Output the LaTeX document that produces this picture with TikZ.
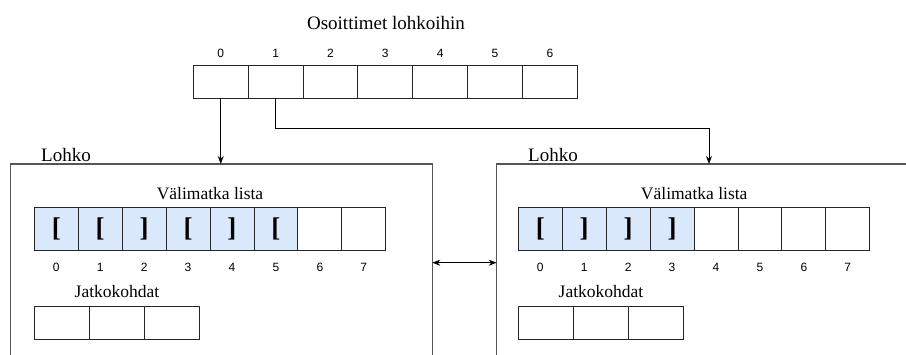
\documentclass[tikz,border=0pt]{standalone}
\usepackage{fontspec}
\setmainfont{Liberation Serif}
\newfontfamily\serifont{Liberation Serif}
\newfontfamily\numfont{Liberation Sans}
\usetikzlibrary{arrows.meta}
\definecolor{cellblue}{HTML}{DAE8FC}
\definecolor{blockgray}{HTML}{555555}
\begin{document}
\begin{tikzpicture}[x=1pt,y=-1pt,
  topcell/.style={draw=black!85, line width=0.9pt, minimum width=54.86pt, minimum height=33.3pt, inner sep=0pt, outer sep=0pt},
  icell/.style={draw=black!85, line width=0.9pt, minimum width=43.93pt, minimum height=43.3pt, inner sep=0pt, outer sep=0pt},
  jcell/.style={draw=black!85, line width=0.9pt, minimum width=54.9pt, minimum height=33.3pt, inner sep=0pt, outer sep=0pt},
  filled/.style={fill=cellblue},
  block/.style={draw=blockgray, line width=1.1pt, anchor=north west, minimum height=260pt, inner sep=0pt, outer sep=0pt},
  num/.style={font=\numfont\fontsize{12}{14}\selectfont, inner sep=0pt},
  title/.style={font=\serifont\fontsize{19}{22}\selectfont, inner sep=0pt},
  subtitle/.style={font=\serifont\fontsize{17.5}{20}\selectfont, inner sep=0pt},
  brk/.style={font=\serifont\bfseries\fontsize{27}{30}\selectfont, inner sep=0pt},
  arr/.style={draw=black, line width=0.9pt, -{Stealth[length=8pt,width=6pt]}},
  arrboth/.style={draw=black, line width=0.9pt, {Stealth[length=8pt,width=6pt]}-{Stealth[length=8pt,width=6pt]}}
]
\useasboundingbox (0,0) rectangle (906,355);
\clip (0,0) rectangle (906,355);

% title and top array
\node[title] (ttl) at (386,23) {Osoittimet lohkoihin};
\foreach \i in {0,...,6} {
  \node[topcell] (t\i) at ({193.3+54.86*(\i+0.5)},81.7) {};
  \node[num] (tn\i) at ({193.3+54.86*(\i+0.5)},53.3) {\i};
}

% blocks
\node[block, minimum width=421.6pt] (lb) at (10.7,164) {};
\node[block, minimum width=520pt] (rb) at (496.7,164) {};
\node[title] (lbl) at (66,155) {Lohko};
\node[title] (rbl) at (553,155) {Lohko};

% left block contents
\node[subtitle] (lvt) at (210,193.3) {Välimatka lista};
\foreach \i/\s in {0/{[},1/{[},2/{]},3/{[},4/{]},5/{[}} {
  \node[icell, filled] (li\i) at ({34.3+43.93*(\i+0.5)},229.3) {};
  \node[brk] (lb\i) at (li\i) {\s};
}
\foreach \i in {6,7} {
  \node[icell] (li\i) at ({34.3+43.93*(\i+0.5)},229.3) {};
}
\foreach \i in {0,...,7} {
  \node[num] (ln\i) at ({34.3+43.93*(\i+0.5)},267.7) {\i};
}
\node[subtitle] (ljt) at (117,291.7) {Jatkokohdat};
\foreach \i in {0,1,2} {
  \node[jcell] (lj\i) at ({34.3+54.9*(\i+0.5)},322.7) {};
}

% right block contents
\node[subtitle] (rvt) at (694.2,193.3) {Välimatka lista};
\foreach \i/\s in {0/{[},1/{]},2/{]},3/{]}} {
  \node[icell, filled] (ri\i) at ({518.3+43.93*(\i+0.5)},229.3) {};
  \node[brk] (rb\i) at (ri\i) {\s};
}
\foreach \i in {4,...,7} {
  \node[icell] (ri\i) at ({518.3+43.93*(\i+0.5)},229.3) {};
}
\foreach \i in {0,...,7} {
  \node[num] (rn\i) at ({518.3+43.93*(\i+0.5)},267.7) {\i};
}
\node[subtitle] (rjt) at (601,291.7) {Jatkokohdat};
\foreach \i in {0,1,2} {
  \node[jcell] (rj\i) at ({518.3+54.9*(\i+0.5)},322.7) {};
}

% connectors
\draw[arr] (t0.south) -- (t0.south |- lb.north);
\coordinate (bend) at (709,128);
\coordinate (rtarget) at (709,164);
\draw[arr] (t1.south) -- (t1.south |- bend) -- (bend) -- (rtarget);
\coordinate (mid) at (464,262.7);
\draw[arrboth] (lb.east |- mid) -- (rb.west |- mid);
\end{tikzpicture}
\end{document}
